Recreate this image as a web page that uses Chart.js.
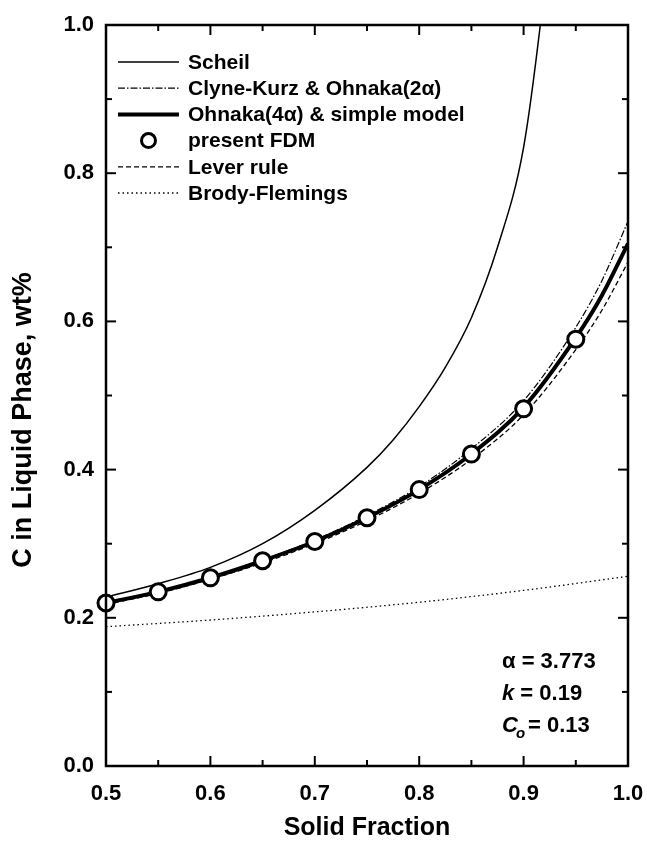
<!DOCTYPE html>
<html>
<head>
<meta charset="utf-8">
<script src="https://cdn.jsdelivr.net/npm/chart.js@4.4.1/dist/chart.umd.min.js"></script>
<style>
  body { margin: 0; background: #fff; }
  #wrap { width: 647px; height: 845px; }
</style>
</head>
<body>
<div id="wrap"><canvas id="my-chart" width="647" height="845"></canvas></div>
<script>
// values
const fracX = [0.5, 0.55, 0.6, 0.65, 0.7, 0.75, 0.8, 0.85, 0.9, 0.95, 0.975, 1.0];

const scheilX = [0.5, 0.55, 0.6, 0.65, 0.7, 0.75, 0.775, 0.8, 0.825, 0.85, 0.875, 0.9, 0.916, 0.925];
const scheilY = [0.228, 0.246, 0.268, 0.300, 0.345, 0.403, 0.440, 0.485, 0.538, 0.605, 0.700, 0.835, 1.0, 1.12];

const clyneY = [0.221, 0.236, 0.255, 0.278, 0.305, 0.338, 0.377, 0.428, 0.493, 0.592, 0.655, 0.735];
const ohnakaY = [0.220, 0.235, 0.254, 0.277, 0.303, 0.335, 0.373, 0.421, 0.484, 0.578, 0.635, 0.705];
const leverY = [0.218, 0.233, 0.252, 0.274, 0.300, 0.331, 0.368, 0.414, 0.474, 0.562, 0.615, 0.680];

const fdmX = [0.5, 0.55, 0.6, 0.65, 0.7, 0.75, 0.8, 0.85, 0.9, 0.95];
const fdmY = [0.220, 0.235, 0.254, 0.277, 0.303, 0.335, 0.373, 0.421, 0.482, 0.576];

const brodyX = [0.5, 0.6, 0.7, 0.8, 0.9, 1.0];
const brodyY = [0.188, 0.197, 0.208, 0.221, 0.237, 0.256];

const xMajor = [0.5, 0.6, 0.7, 0.8, 0.9, 1.0];
const xMinor = [0.55, 0.65, 0.75, 0.85, 0.95];
const yMajor = [0.0, 0.2, 0.4, 0.6, 0.8, 1.0];
const yMinor = [0.1, 0.3, 0.5, 0.7, 0.9];

const legendLabels = ["Scheil", "Clyne-Kurz & Ohnaka(2\u03b1)", "Ohnaka(4\u03b1) & simple model",
  "present FDM", "Lever rule", "Brody-Flemings"];

const FONT = "'Liberation Sans', Arial, Helvetica, sans-serif";

function pts(xs, ys) {
  return xs.map((x, i) => ({ x: x, y: ys[i] }));
}

const lineBase = {
  fill: false,
  pointRadius: 0,
  borderColor: "#000",
  cubicInterpolationMode: "monotone"
};

const datasets = [
  Object.assign({}, lineBase, { label: legendLabels[0], data: pts(scheilX, scheilY), borderWidth: 1.5 }),
  Object.assign({}, lineBase, { label: legendLabels[1], data: pts(fracX, clyneY), borderWidth: 1.2, borderDash: [7, 2, 1.5, 2] }),
  Object.assign({}, lineBase, { label: legendLabels[2], data: pts(fracX, ohnakaY), borderWidth: 4 }),
  {
    label: legendLabels[3],
    data: pts(fdmX, fdmY),
    showLine: false,
    pointRadius: 8,
    pointBorderWidth: 3,
    pointBorderColor: "#000",
    pointBackgroundColor: "#fff",
    clip: false,
    order: -1
  },
  Object.assign({}, lineBase, { label: legendLabels[4], data: pts(fracX, leverY), borderWidth: 1.3, borderDash: [5, 3] }),
  Object.assign({}, lineBase, { label: legendLabels[5], data: pts(brodyX, brodyY), borderWidth: 1.3, borderDash: [1.5, 3] })
];

// frame, inward ticks, legend, titles and note
const decorPlugin = {
  id: "decor",
  afterDraw(chart) {
    const { ctx, chartArea: a, scales: { x, y } } = chart;
    ctx.save();
    ctx.strokeStyle = "#000";
    ctx.fillStyle = "#000";

    function seg(x1, y1, x2, y2) {
      ctx.beginPath();
      ctx.moveTo(x1, y1);
      ctx.lineTo(x2, y2);
      ctx.stroke();
    }

    ctx.lineWidth = 2.5;
    ctx.strokeRect(a.left, a.top, a.right - a.left, a.bottom - a.top);

    ctx.lineWidth = 2;
    xMajor.forEach(v => { const p = x.getPixelForValue(v); seg(p, a.bottom, p, a.bottom - 10); seg(p, a.top, p, a.top + 10); });
    xMinor.forEach(v => { const p = x.getPixelForValue(v); seg(p, a.bottom, p, a.bottom - 6); seg(p, a.top, p, a.top + 6); });
    yMajor.forEach(v => { const p = y.getPixelForValue(v); seg(a.left, p, a.left + 10, p); seg(a.right, p, a.right - 10, p); });
    yMinor.forEach(v => { const p = y.getPixelForValue(v); seg(a.left, p, a.left + 6, p); seg(a.right, p, a.right - 6, p); });

    // legend
    const lx1 = a.left + 12, lx2 = a.left + 73, tx = a.left + 82;
    ctx.font = "bold 21px " + FONT;
    ctx.textBaseline = "middle";
    ctx.textAlign = "left";
    chart.data.datasets.forEach((ds, i) => {
      const ly = a.top + 37 + i * 26.2;
      if (ds.showLine === false) {
        ctx.setLineDash([]);
        ctx.lineWidth = 3;
        ctx.beginPath();
        ctx.arc((lx1 + lx2) / 2, ly, 7, 0, Math.PI * 2);
        ctx.fillStyle = "#fff";
        ctx.fill();
        ctx.stroke();
        ctx.fillStyle = "#000";
      } else {
        ctx.setLineDash(ds.borderDash || []);
        ctx.lineWidth = ds.borderWidth;
        seg(lx1, ly, lx2, ly);
      }
      ctx.setLineDash([]);
      ctx.fillText(ds.label, tx, ly + 1);
    });

    // axis titles
    ctx.font = "bold 25px " + FONT;
    ctx.textAlign = "center";
    ctx.fillText("Solid Fraction", (a.left + a.right) / 2, 828);
    ctx.save();
    ctx.translate(24, 420);
    ctx.rotate(-Math.PI / 2);
    ctx.font = "bold 27px " + FONT;
    ctx.fillText("C in Liquid Phase, wt%", 0, 0);
    ctx.restore();

    // parameters note
    ctx.textAlign = "left";
    const nx = 502;
    ctx.font = "bold 22px " + FONT;
    ctx.fillText("\u03b1 = 3.773", nx, 662);
    ctx.font = "italic bold 22px " + FONT;
    ctx.fillText("k", nx, 694);
    let w = ctx.measureText("k").width;
    ctx.font = "bold 22px " + FONT;
    ctx.fillText(" = 0.19", nx + w, 694);
    ctx.font = "italic bold 22px " + FONT;
    ctx.fillText("C", nx, 726);
    w = ctx.measureText("C").width;
    ctx.font = "italic bold 15px " + FONT;
    ctx.fillText("o", nx + w - 2, 734);
    ctx.font = "bold 22px " + FONT;
    ctx.fillText(" = 0.13", nx + w + 4, 726);
    ctx.restore();
  }
};

const chartEl = document.getElementById("my-chart").getContext("2d");

const myChart = new Chart(chartEl, {
  type: "line",
  data: { datasets },
  options: {
    responsive: false,
    animation: false,
    layout: { padding: { top: 25, right: 19, left: 0, bottom: 0 } },
    plugins: { legend: { display: false }, tooltip: { enabled: false } },
    scales: {
      x: {
        type: "linear",
        min: 0.5,
        max: 1.0,
        afterFit: s => { s.height = 79; s.paddingRight = 0; s.paddingLeft = 0; },
        grid: { display: false, drawTicks: false },
        border: { display: false },
        ticks: {
          stepSize: 0.1,
          padding: 15,
          color: "#000",
          font: { family: FONT, size: 22, weight: "bold" },
          callback: v => v.toFixed(1)
        }
      },
      y: {
        min: 0,
        max: 1.0,
        afterFit: s => { s.width = 106; s.paddingTop = 0; s.paddingBottom = 0; },
        grid: { display: false, drawTicks: false },
        border: { display: false },
        ticks: {
          stepSize: 0.2,
          padding: 12,
          color: "#000",
          font: { family: FONT, size: 22, weight: "bold" },
          callback: v => v.toFixed(1)
        }
      }
    }
  },
  plugins: [decorPlugin]
});
</script>
</body>
</html>
